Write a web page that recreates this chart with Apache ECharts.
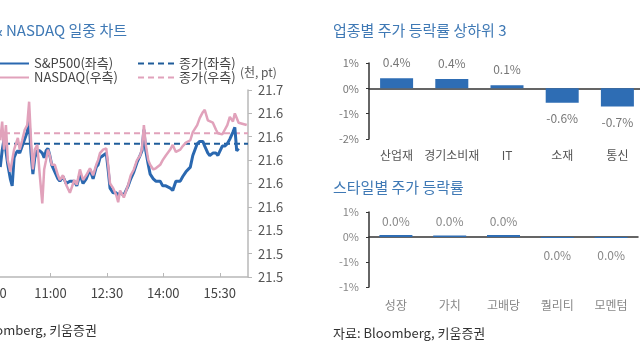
<!DOCTYPE html>
<html><head><meta charset="utf-8">
<script src="https://cdn.jsdelivr.net/npm/echarts@6/dist/echarts.min.js"></script>
<style>html,body{margin:0;padding:0;background:#fff}#c{width:640px;height:360px}</style>
</head><body><div id="c"></div>
<script>
// minutes after 09:30
const minutes = [10,13,16,19,22,26,29,32,35,38,41,45,49,53,56,59,62,65,69,73,77,80,83,86,89,92,97,102,105,110,115,121,128,132,137,142,147,153,158,163,166,169,174,179,182,185,190,195,198,201,207,214,218,223,228,233,236,239,242,246,249,254,258,265,269,274,281,285,290,297,301,306,313,317,324,328,333,336,341,344,349,354,357,364,368,372,376,381,384,387,390,403];
// S&P500 (thousand pt, left axis)
const spx = [6.327,6.334,6.339,6.334,6.328,6.322,6.319,6.331,6.333,6.334,
6.333,6.336,6.339,6.342,6.347,6.333,6.324,6.331,6.334,6.334,
6.333,6.331,6.334,6.335,6.332,6.328,6.325,6.322,6.321,6.323,
6.320,6.321,6.321,6.319,6.324,6.320,6.322,6.326,6.322,6.327,
6.328,6.331,6.332,6.333,6.326,6.318,6.316,6.316,6.315,6.316,
6.315,6.319,6.322,6.325,6.329,6.332,6.334,6.343,6.334,6.328,
6.324,6.322,6.321,6.321,6.319,6.319,6.318,6.317,6.321,6.321,
6.323,6.325,6.327,6.332,6.337,6.338,6.338,6.336,6.333,6.332,
6.333,6.333,6.332,6.336,6.336,6.337,6.339,6.342,6.344,6.334,
6.335,null];
// NASDAQ (thousand pt, right axis)
const ndx = [21.617,21.633,21.609,21.630,21.600,21.590,21.600,21.609,21.610,21.619,
21.609,21.617,21.626,21.630,21.650,21.617,21.592,21.609,21.613,21.587,
21.563,21.592,21.600,21.609,21.604,21.596,21.596,21.587,21.583,21.587,
21.579,21.572,21.583,21.579,21.592,21.583,21.587,21.593,21.587,21.596,
21.600,21.606,21.609,21.610,21.596,21.580,21.576,21.570,21.564,21.574,
21.568,21.579,21.587,21.592,21.600,21.604,21.610,21.630,21.613,21.600,
21.596,21.592,21.593,21.596,21.600,21.604,21.609,21.613,21.607,21.609,
21.612,21.615,21.617,21.624,21.630,21.636,21.641,21.643,21.634,21.633,
21.632,21.626,21.623,21.622,21.626,21.630,21.637,21.633,21.640,21.636,
21.632,21.630];
const spxClose = 6.337;
const ndxClose = 21.623;

const sectorCats = ['산업재','경기소비재','IT','소재','통신'];
const sectorVals = [0.40,0.37,0.12,-0.57,-0.72];
const styleCats = ['성장','가치','고배당','퀄리티','모멘텀'];
const styleVals = [0.04,0.03,0.04,-0.02,-0.02];

const FONT = '"Noto Sans CJK KR","Noto Sans",sans-serif';
const BLUE = '#2a68b0';
const PINK = '#e1a2bb';

function fmtTime(t){const m=570+t;return Math.floor(m/60)+':'+String(m%60).padStart(2,'0');}
function fmtPct1(v){let s=Number(v).toFixed(1);if(parseFloat(s)===0)s='0.0';return s+'%';}
function fmtPctAxis(v){return (v<0?'-':'')+Math.abs(v).toFixed(0)+'%';}

function barData(vals, dTop, dBot){
  return vals.map(v=>({value:v,label:{position:v>=0?'top':'bottom',distance:v>=0?dTop:dBot}}));
}

const chart = echarts.init(document.getElementById('c'));
const catAxisLine = {onZero:true,lineStyle:{color:'#333',width:1.5}};
const legendBase = {itemWidth:36,itemHeight:12,itemStyle:{opacity:0},textStyle:{fontSize:13,color:'#444'}};
const option = {
  animation:false,
  textStyle:{fontFamily:FONT},
  grid:[
    {left:-6,right:392,top:90,bottom:83,outerBoundsMode:'none'},
    {left:369,right:-5,top:63,bottom:221,outerBoundsMode:'none'},
    {left:369,right:2,top:212,bottom:73,outerBoundsMode:'none'}
  ],
  legend:[
    Object.assign({data:['S&P500(좌측)'],left:-13,top:52},legendBase),
    Object.assign({data:['NASDAQ(우측)'],left:-13,top:66},legendBase),
    Object.assign({data:['종가(좌측)'],left:132,top:52},legendBase),
    Object.assign({data:['종가(우측)'],left:132,top:66},legendBase)
  ],
  xAxis:[
    {gridIndex:0,type:'value',min:0,max:405,interval:90,
     axisLine:{lineStyle:{color:'#b8b8b8',width:1.5}},
     axisTick:{inside:true,length:4,lineStyle:{color:'#b8b8b8'}},
     axisLabel:{formatter:fmtTime,color:'#444',fontSize:13,margin:10,showMaxLabel:false},
     splitLine:{show:false}},
    {gridIndex:1,type:'category',data:sectorCats,axisLine:catAxisLine,
     axisTick:{length:4,lineStyle:{color:'#333',width:1.5}},axisLabel:{show:false}},
    {gridIndex:1,type:'category',data:sectorCats,position:'bottom',
     axisLine:{show:false,onZero:false},axisTick:{show:false},
     axisLabel:{color:'#555',fontSize:12,margin:10,interval:0}},
    {gridIndex:2,type:'category',data:styleCats,axisLine:catAxisLine,
     axisTick:{length:4,lineStyle:{color:'#333',width:1.5}},axisLabel:{show:false}},
    {gridIndex:2,type:'category',data:styleCats,position:'bottom',
     axisLine:{show:false,onZero:false},axisTick:{show:false},
     axisLabel:{color:'#888',fontSize:12,margin:12,interval:0}}
  ],
  yAxis:[
    {gridIndex:0,type:'value',min:6.28,max:6.36,interval:0.01,show:false},
    {gridIndex:0,type:'value',position:'right',min:21.5,max:21.66,interval:0.02,
     axisLine:{show:true,lineStyle:{color:'#b8b8b8',width:1.5}},
     axisTick:{show:true,length:4,lineStyle:{color:'#b8b8b8'}},
     axisLabel:{formatter:v=>v.toFixed(1),color:'#555',fontSize:13,margin:10},
     splitLine:{show:false}},
    {gridIndex:1,type:'value',min:-2,max:1,interval:1,
     axisLine:{show:true,lineStyle:{color:'#333',width:1.5}},
     axisTick:{show:true,length:3,lineStyle:{color:'#333'}},
     axisLabel:{formatter:fmtPctAxis,color:'#777',fontSize:11,margin:10},
     splitLine:{show:false}},
    {gridIndex:2,type:'value',min:-1,max:0.5,interval:0.5,
     axisLine:{show:true,lineStyle:{color:'#333',width:1.5}},
     axisTick:{show:true,length:3,lineStyle:{color:'#333'}},
     axisLabel:{formatter:fmtPctAxis,color:'#888',fontSize:11,margin:10},
     splitLine:{show:false}}
  ],
  series:[
    {name:'종가(좌측)',type:'line',xAxisIndex:0,yAxisIndex:0,symbol:'none',
     data:[[0,spxClose],[405,spxClose]],
     itemStyle:{color:'#1f5c9a'},lineStyle:{color:'#1f5c9a',width:2,type:[6,4]}},
    {name:'종가(우측)',type:'line',xAxisIndex:0,yAxisIndex:1,symbol:'none',
     data:[[0,ndxClose],[405,ndxClose]],
     itemStyle:{color:PINK},lineStyle:{color:PINK,width:2,type:[6,4]}},
    {name:'S&P500(좌측)',type:'line',xAxisIndex:0,yAxisIndex:0,symbol:'none',
     data:minutes.map((t,i)=>[t,spx[i]]),
     itemStyle:{color:BLUE},lineStyle:{color:BLUE,width:3}},
    {name:'NASDAQ(우측)',type:'line',xAxisIndex:0,yAxisIndex:1,symbol:'none',
     data:minutes.map((t,i)=>[t,ndx[i]]),
     itemStyle:{color:PINK},lineStyle:{color:PINK,width:2.5}},
    {type:'bar',xAxisIndex:1,yAxisIndex:2,barWidth:33,
     itemStyle:{color:'#2e6db4'},
     label:{show:true,formatter:p=>fmtPct1(p.value),color:'#777',fontSize:12},
     data:barData(sectorVals,10,10)},
    {type:'bar',xAxisIndex:3,yAxisIndex:3,barWidth:33,
     itemStyle:{color:'#2e6db4'},
     label:{show:true,formatter:p=>fmtPct1(p.value),color:'#888',fontSize:12},
     data:barData(styleVals,8,11)}
  ],
  graphic:[
    {type:'text',style:{text:'S&P500 & NASDAQ 일중 차트',x:127,y:30,textAlign:'right',textVerticalAlign:'middle',fill:'#3f79b5',font:'15px '+FONT}},
    {type:'text',style:{text:'(천, pt)',x:240,y:72,textVerticalAlign:'middle',fill:'#555',font:'12px '+FONT}},
    {type:'text',style:{text:'자료: Bloomberg, 키움증권',x:97,y:330,textAlign:'right',textVerticalAlign:'middle',fill:'#333',font:'13px '+FONT}},
    {type:'text',style:{text:'업종별 주가 등락률 상하위 3',x:333,y:30,textVerticalAlign:'middle',fill:'#3f79b5',font:'15px '+FONT}},
    {type:'text',style:{text:'스타일별 주가 등락률',x:333,y:187,textVerticalAlign:'middle',fill:'#3f79b5',font:'15px '+FONT}},
    {type:'text',style:{text:'자료: Bloomberg, 키움증권',x:333,y:333,textVerticalAlign:'middle',fill:'#333',font:'13px '+FONT}}
  ]
};
chart.setOption(option);
</script></body></html>
